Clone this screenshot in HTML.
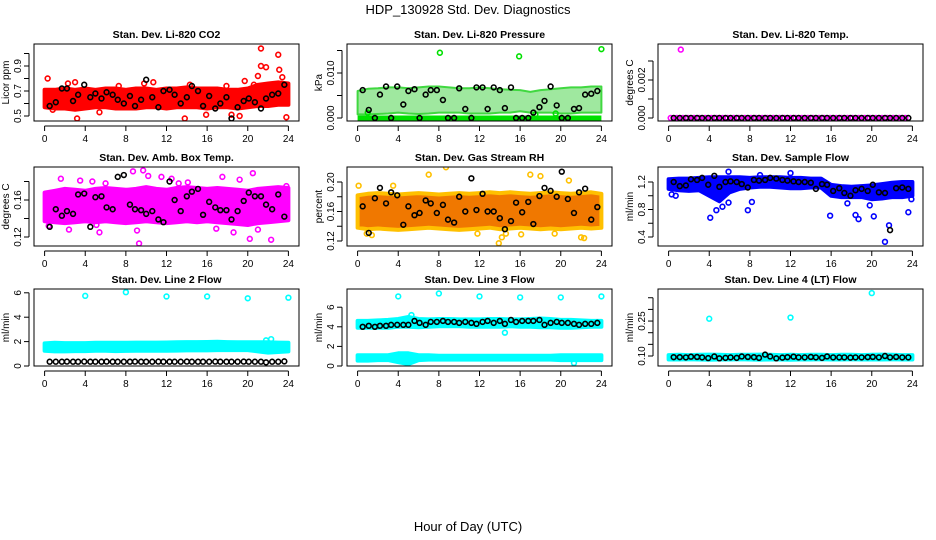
<!DOCTYPE html>
<html><head><meta charset="utf-8">
<style>
html,body{margin:0;padding:0;background:#fff;}
svg{display:block;font-family:"Liberation Sans",Arial,sans-serif;}
</style></head>
<body>
<svg id="chart" width="936" height="540" viewBox="0 0 936 540">
<text x="468" y="14" text-anchor="middle" font-size="13">HDP_130928  Std. Dev. Diagnostics</text>
<text x="468" y="531" text-anchor="middle" font-size="13">Hour of Day (UTC)</text>
</svg>
<script>
const blackHours=[0.5,1.1,1.7,2.2,2.8,3.3,3.9,4.5,5.0,5.6,6.1,6.7,7.2,7.8,8.4,8.9,9.5,10.0,10.6,11.2,11.7,12.3,12.8,13.4,14.0,14.5,15.1,15.6,16.2,16.8,17.3,17.9,18.4,19.0,19.6,20.1,20.7,21.3,21.8,22.4,23.0,23.6];
const bandHours=[0,1,2,3,4,5,6,7,8,9,10,11,12,13,14,15,16,17,18,19,20,21,22,23,24];
const xTicks=[0,4,8,12,16,20,24];

const co2Lo=[0.57,0.56,0.56,0.55,0.56,0.57,0.57,0.56,0.56,0.56,0.57,0.57,0.56,0.57,0.57,0.57,0.56,0.57,0.57,0.56,0.57,0.58,0.58,0.59,0.59];
const co2Hi=[0.71,0.71,0.72,0.71,0.72,0.71,0.72,0.72,0.71,0.72,0.72,0.71,0.72,0.72,0.73,0.72,0.72,0.72,0.71,0.71,0.72,0.75,0.76,0.77,0.76];
const co2OutH=[0.3,0.8,3.2,3.0,5.4,10.7,13.8,15.9,17.9,18.4,19.2,19.7,21.0,21.3,21.8,23.1,23.4,23.8,21.3,20.6,23.0,2.3,7.3,9.8,14.3];
const co2OutV=[0.80,0.55,0.48,0.77,0.53,0.77,0.48,0.51,0.74,0.51,0.50,0.78,0.82,0.90,0.89,0.87,0.81,0.49,1.04,0.75,0.99,0.76,0.74,0.76,0.75];
const co2Black=[0.58,0.61,0.72,0.72,0.62,0.67,0.75,0.65,0.68,0.64,0.69,0.67,0.63,0.60,0.66,0.58,0.63,0.79,0.65,0.57,0.70,0.71,0.67,0.60,0.65,0.74,0.70,0.58,0.66,0.56,0.60,0.65,0.48,0.57,0.62,0.64,0.61,0.56,0.64,0.67,0.68,0.75];

const presLo=[0.0008,0.0008,0.0009,0.0010,0.0012,0.0010,0.0009,0.0010,0.0012,0.0012,0.0012,0.0010,0.0010,0.0010,0.0012,0.0012,0.0015,0.0012,0.0012,0.0012,0.0010,0.0010,0.0012,0.0012,0.0012];
const presHi=[0.0060,0.0065,0.0066,0.0068,0.0068,0.0066,0.0068,0.0070,0.0070,0.0068,0.0066,0.0066,0.0068,0.0066,0.0064,0.0063,0.0062,0.0058,0.0062,0.0064,0.0066,0.0068,0.0068,0.0070,0.0070];
const presOutH=[8.1,15.9,24.0,1.0,17.5,19.5];
const presOutV=[0.0145,0.0137,0.0153,0.0012,0.0008,0.0010];
const presBlack=[0.0062,0.0018,0.0000,0.0052,0.0070,0.0000,0.0070,0.0030,0.0060,0.0064,0.0000,0.0052,0.0062,0.0062,0.0040,0.0000,0.0000,0.0066,0.0020,0.0000,0.0068,0.0068,0.0020,0.0068,0.0062,0.0022,0.0068,0.0000,0.0000,0.0000,0.0012,0.0024,0.0038,0.0070,0.0028,0.0000,0.0000,0.0020,0.0022,0.0052,0.0054,0.0060];

const tempOutH=[1.2];
const tempOutV=[0.0036];
const tempBlack=[0,0,0,0,0,0,0,0,0,0,0,0,0,0,0,0,0,0,0,0,0,0,0,0,0,0,0,0,0,0,0,0,0,0,0,0,0,0,0,0,0,0];

const ambLo=[0.137,0.136,0.135,0.136,0.137,0.136,0.137,0.136,0.135,0.136,0.137,0.136,0.135,0.136,0.137,0.136,0.137,0.136,0.135,0.134,0.133,0.135,0.136,0.137,0.138];
const ambHi=[0.168,0.170,0.172,0.171,0.170,0.172,0.173,0.172,0.171,0.172,0.174,0.172,0.171,0.173,0.174,0.173,0.172,0.173,0.172,0.171,0.170,0.172,0.173,0.174,0.173];
const ambOutH=[1.6,2.4,3.5,4.7,5.1,5.4,6.0,8.7,9.1,9.3,9.7,10.2,11.5,12.5,14.1,16.9,17.5,18.6,19.2,20.2,20.5,21.0,22.3,23.8,0.4,13.2];
const ambOutV=[0.183,0.128,0.181,0.180,0.133,0.125,0.178,0.191,0.127,0.113,0.192,0.186,0.185,0.183,0.179,0.129,0.185,0.125,0.182,0.118,0.189,0.128,0.117,0.175,0.132,0.178];
const ambBlack=[0.131,0.150,0.143,0.148,0.145,0.166,0.167,0.131,0.163,0.164,0.152,0.150,0.185,0.187,0.155,0.150,0.149,0.145,0.148,0.139,0.136,0.180,0.160,0.148,0.164,0.169,0.172,0.144,0.158,0.152,0.149,0.149,0.139,0.148,0.159,0.168,0.164,0.164,0.155,0.150,0.166,0.142];

const rhLo=[0.138,0.136,0.137,0.136,0.135,0.136,0.137,0.138,0.137,0.136,0.135,0.136,0.137,0.138,0.136,0.137,0.138,0.137,0.136,0.137,0.136,0.137,0.138,0.137,0.138];
const rhHi=[0.182,0.184,0.185,0.184,0.183,0.184,0.185,0.184,0.183,0.184,0.185,0.184,0.185,0.186,0.185,0.186,0.185,0.184,0.185,0.186,0.185,0.184,0.185,0.186,0.184];
const rhOutH=[0.1,0.9,1.4,3.5,7.0,8.7,11.8,13.9,14.2,14.6,18.0,19.4,20.8,22.0,22.3,16.1,17.0];
const rhOutV=[0.195,0.130,0.128,0.195,0.210,0.220,0.130,0.117,0.125,0.130,0.208,0.130,0.202,0.125,0.124,0.129,0.210];
const rhBlack=[0.167,0.131,0.178,0.192,0.171,0.186,0.182,0.142,0.167,0.155,0.158,0.175,0.171,0.158,0.169,0.149,0.145,0.180,0.160,0.205,0.162,0.184,0.160,0.160,0.151,0.136,0.147,0.172,0.159,0.173,0.143,0.181,0.192,0.188,0.180,0.214,0.177,0.158,0.186,0.191,0.149,0.166];

const flowLo=[1.10,1.08,1.07,1.08,1.00,0.92,1.05,1.10,1.12,1.13,1.13,1.12,1.11,1.11,1.12,1.12,1.00,0.98,0.98,0.98,0.95,0.96,0.98,0.98,1.00];
const flowHi=[1.24,1.25,1.25,1.26,1.27,1.27,1.27,1.27,1.26,1.27,1.27,1.27,1.26,1.26,1.25,1.25,1.16,1.14,1.13,1.14,1.15,1.17,1.19,1.20,1.20];
const flowOutH=[4.1,4.7,5.3,5.9,7.8,8.2,9.0,15.9,17.6,18.4,18.7,19.8,20.2,21.3,21.7,23.6,23.9,0.3,0.7,5.9,12.0];
const flowOutV=[0.68,0.79,0.84,0.90,0.79,0.91,1.30,0.71,0.89,0.72,0.66,0.86,0.70,0.33,0.57,0.76,0.95,1.02,1.00,1.35,1.33];
const flowBlack=[1.20,1.14,1.15,1.24,1.23,1.26,1.16,1.29,1.13,1.20,1.21,1.20,1.17,1.12,1.23,1.22,1.23,1.26,1.25,1.23,1.22,1.21,1.20,1.20,1.19,1.10,1.17,1.16,1.07,1.11,1.04,1.00,1.08,1.10,1.07,1.16,1.05,1.04,0.50,1.11,1.12,1.10];

const l2Lo=[1.25,1.20,1.20,1.22,1.22,1.25,1.25,1.22,1.24,1.25,1.25,1.25,1.25,1.26,1.28,1.28,1.28,1.30,1.30,1.30,1.30,1.20,1.10,1.15,1.20];
const l2Hi=[1.85,1.90,1.88,1.88,1.88,1.90,1.90,1.90,1.90,1.92,1.92,1.92,1.93,1.95,1.96,1.96,1.97,1.98,1.96,1.95,1.95,1.95,1.95,1.92,1.90];
const l2OutH=[4.0,8.0,12.0,16.0,20.0,24.0,21.8,22.3];
const l2OutV=[5.75,6.05,5.70,5.70,5.55,5.60,2.10,2.20];
const l2Black=[0.35,0.35,0.35,0.36,0.35,0.35,0.36,0.35,0.35,0.35,0.36,0.35,0.35,0.35,0.35,0.36,0.35,0.35,0.35,0.36,0.35,0.35,0.35,0.35,0.36,0.35,0.35,0.35,0.35,0.36,0.35,0.35,0.35,0.35,0.36,0.35,0.35,0.35,0.30,0.35,0.35,0.38];

const l3Lo=[3.9,3.9,3.9,3.9,4.0,4.0,3.95,4.0,4.05,4.05,4.05,4.0,4.0,4.0,4.0,4.05,4.0,4.0,3.95,3.95,3.9,3.9,3.95,4.0,4.0];
const l3Hi=[4.6,4.6,4.65,4.7,4.8,5.0,4.8,4.75,4.8,4.8,4.75,4.75,4.75,4.8,4.8,4.75,4.75,4.8,4.85,4.8,4.7,4.7,4.65,4.6,4.6];
const l3bLo=[0.55,0.55,0.6,0.6,0.4,0.2,0.6,0.65,0.65,0.65,0.65,0.65,0.65,0.65,0.65,0.65,0.65,0.65,0.65,0.65,0.6,0.6,0.6,0.6,0.6];
const l3bHi=[1.1,1.1,1.1,1.1,1.3,1.3,1.1,1.1,1.05,1.05,1.05,1.05,1.05,1.05,1.05,1.05,1.05,1.05,1.05,1.05,1.1,1.1,1.1,1.1,1.1];
const l3OutH=[4.0,8.0,12.0,16.0,20.0,24.0,14.5,21.3,5.3];
const l3OutV=[7.1,7.4,7.1,7.0,7.0,7.1,3.4,0.3,5.2];
const l3Black=[4.0,4.1,4.0,4.1,4.1,4.2,4.2,4.2,4.2,4.6,4.4,4.2,4.5,4.5,4.6,4.5,4.5,4.4,4.5,4.4,4.3,4.5,4.6,4.4,4.6,4.3,4.7,4.5,4.6,4.6,4.6,4.7,4.2,4.4,4.5,4.4,4.4,4.3,4.2,4.3,4.3,4.4];

const l4Lo=[0.085,0.085,0.086,0.085,0.084,0.085,0.085,0.086,0.085,0.084,0.085,0.085,0.084,0.085,0.085,0.086,0.085,0.085,0.086,0.085,0.085,0.085,0.086,0.085,0.085];
const l4Hi=[0.104,0.105,0.104,0.105,0.106,0.105,0.104,0.105,0.105,0.106,0.105,0.104,0.105,0.104,0.105,0.105,0.104,0.105,0.105,0.104,0.105,0.106,0.105,0.104,0.104];
const l4OutH=[4.0,12.0,20.0];
const l4OutV=[0.26,0.265,0.37];
const l4Black=[0.095,0.095,0.094,0.097,0.096,0.094,0.091,0.098,0.090,0.092,0.094,0.092,0.098,0.096,0.095,0.092,0.106,0.098,0.090,0.093,0.095,0.097,0.094,0.094,0.096,0.094,0.092,0.098,0.094,0.094,0.094,0.093,0.094,0.094,0.095,0.096,0.094,0.100,0.094,0.096,0.094,0.094];

const NS="http://www.w3.org/2000/svg";
const svg=document.getElementById('chart');
function mk(tag,attrs,parent){const e=document.createElementNS(NS,tag);for(const k in attrs)e.setAttribute(k,attrs[k]);(parent||svg).appendChild(e);return e;}

function panel(cfg){
  const g=mk('g',{});
  
  
  const L=cfg.box[0],R=cfg.box[1],T=cfg.box[2],B=cfg.box[3],W=R-L;
  const xs=h=>L+W*0.04+h/24*W*0.92;
  const ys=v=>cfg.y0px-(v-cfg.v0)*cfg.scale;
  const clip='clip-'+cfg.name;
  const cp=mk('clipPath',{id:clip},g);mk('rect',{x:L,y:T,width:W,height:B-T},cp);
  const data=mk('g',{'clip-path':'url(#'+clip+')'},g);
  (cfg.bands||[]).forEach(b=>{
    let d='';
    bandHours.forEach((h,i)=>{d+=(i?'L':'M')+xs(h).toFixed(1)+','+ys(b.hi[i]).toFixed(1);});
    for(let i=bandHours.length-1;i>=0;i--)d+='L'+xs(bandHours[i]).toFixed(1)+','+ys(b.lo[i]).toFixed(1);
    const p=mk('path',{d:d+'Z',fill:b.fill,stroke:b.stroke||cfg.color,'stroke-width':b.sw||4,'stroke-linejoin':'round'},data);
    
    
  });
  if(cfg.zeroLine){
    const ln=mk('line',{x1:xs(0),x2:xs(24),y1:ys(0),y2:ys(0),stroke:cfg.color,'stroke-width':5},data);
    
    
  }
  cfg.outH.forEach((h,i)=>{
    const c=mk('circle',{cx:xs(h),cy:ys(cfg.outV[i]),r:2.4,fill:'none',stroke:cfg.color,'stroke-width':1.6},data);
    
    
  });
  if(cfg.colorAtBlack){
    blackHours.forEach((h,i)=>{
      const c=mk('circle',{cx:xs(h)-3,cy:ys(cfg.black[i]),r:2.4,fill:'none',stroke:cfg.color,'stroke-width':1.6},data);
      
      
    });
  }
  blackHours.forEach((h,i)=>{
    const c=mk('circle',{cx:xs(h),cy:ys(cfg.black[i]),r:2.4,fill:'none',stroke:'#000','stroke-width':1.6},data);
    
    
  });
  const fr=mk('rect',{x:L,y:T,width:W,height:B-T,fill:'none',stroke:'#000','stroke-width':1},g);
  
  
  const t=mk('text',{x:(L+R)/2,y:T-6,'text-anchor':'middle','font-size':10.5,'font-weight':'bold'},g);
  t.textContent=cfg.title;
  
  
  const xa=mk('g',{},g);
  
  
  mk('line',{x1:xs(0),x2:xs(24),y1:B+5,y2:B+5,stroke:'#000'},xa);
  xTicks.forEach(v=>{
    mk('line',{x1:xs(v),x2:xs(v),y1:B+5,y2:B+10,stroke:'#000'},xa);
    const tx=mk('text',{x:xs(v),y:B+21,'text-anchor':'middle','font-size':10},xa);
    tx.textContent=v;
  });
  const ya=mk('g',{},g);
  
  
  const tk=cfg.yTicks;
  mk('line',{x1:L-5,x2:L-5,y1:ys(tk[0]),y2:ys(tk[tk.length-1]),stroke:'#000'},ya);
  tk.forEach((v,i)=>{
    mk('line',{x1:L-10,x2:L-5,y1:ys(v),y2:ys(v),stroke:'#000'},ya);
    if(cfg.yLabels[i]){
      const yy=ys(v);
      const tx=mk('text',{x:L-13,y:yy,'text-anchor':'middle','font-size':10,transform:'rotate(-90 '+(L-13)+' '+yy+')'},ya);
      tx.textContent=cfg.yLabels[i];
    }
  });
  const ml=(T+B)/2;
  const yl=mk('text',{x:L-25,y:ml,'text-anchor':'middle','font-size':10,transform:'rotate(-90 '+(L-25)+' '+ml+')'},g);
  yl.textContent=cfg.ylab;
  
  
}

const C1=[34,299],C2=[347,612],C3=[658,923];
const R1=[44,121],R2=[167,246],R3=[289,366];
panel({name:'panel-co2',title:'Stan. Dev. Li-820 CO2',ylab:'Licor ppm',box:[...C1,...R1],color:'#ff0000',y0px:116,v0:0.5,scale:125,
  yTicks:[0.5,0.6,0.7,0.8,0.9,1.0],yLabels:['0.5','','0.7','','0.9',''],bands:[{lo:co2Lo,hi:co2Hi,fill:'#ff0000'}],outH:co2OutH,outV:co2OutV,black:co2Black});
panel({name:'panel-pressure',title:'Stan. Dev. Li-820 Pressure',ylab:'kPa',box:[...C2,...R1],color:'#00e000',y0px:118,v0:0,scale:4500,
  yTicks:[0,0.005,0.010,0.015],yLabels:['0.000','','0.010',''],bands:[{lo:presLo,hi:presHi,fill:'#9fe89f',stroke:'#40d840',sw:2}],zeroLine:true,outH:presOutH,outV:presOutV,black:presBlack});
panel({name:'panel-li820-temp',title:'Stan. Dev. Li-820 Temp.',ylab:'degrees C',box:[...C3,...R1],color:'#ff00ff',y0px:118,v0:0,scale:19000,
  yTicks:[0,0.001,0.002,0.003],yLabels:['0.000','','0.002',''],bands:[],zeroLine:false,colorAtBlack:true,outH:tempOutH,outV:tempOutV,black:tempBlack});
panel({name:'panel-amb-box-temp',title:'Stan. Dev. Amb. Box Temp.',ylab:'degrees C',box:[...C1,...R2],color:'#ff00ff',y0px:237,v0:0.12,scale:925,
  yTicks:[0.12,0.14,0.16,0.18],yLabels:['0.12','','0.16',''],bands:[{lo:ambLo,hi:ambHi,fill:'#ff00ff'}],outH:ambOutH,outV:ambOutV,black:ambBlack});
panel({name:'panel-gas-stream-rh',title:'Stan. Dev. Gas Stream RH',ylab:'percent',box:[...C2,...R2],color:'#ffc000',y0px:241,v0:0.12,scale:737.5,
  yTicks:[0.12,0.14,0.16,0.18,0.20],yLabels:['0.12','','0.16','','0.20'],bands:[{lo:rhLo,hi:rhHi,fill:'#f07800'}],outH:rhOutH,outV:rhOutV,black:rhBlack});
panel({name:'panel-sample-flow',title:'Stan. Dev. Sample Flow',ylab:'ml/min',box:[...C3,...R2],color:'#0000ff',y0px:237,v0:0.4,scale:68.75,
  yTicks:[0.4,0.6,0.8,1.0,1.2],yLabels:['0.4','','0.8','','1.2'],bands:[{lo:flowLo,hi:flowHi,fill:'#0000ff'}],outH:flowOutH,outV:flowOutV,black:flowBlack});
panel({name:'panel-line2-flow',title:'Stan. Dev. Line 2 Flow',ylab:'ml/min',box:[...C1,...R3],color:'#00ffff',y0px:366,v0:0,scale:12.2,
  yTicks:[0,2,4,6],yLabels:['0','2','4','6'],bands:[{lo:l2Lo,hi:l2Hi,fill:'#00ffff'}],outH:l2OutH,outV:l2OutV,black:l2Black});
panel({name:'panel-line3-flow',title:'Stan. Dev. Line 3 Flow',ylab:'ml/min',box:[...C2,...R3],color:'#00ffff',y0px:366,v0:0,scale:9.8,
  yTicks:[0,2,4,6],yLabels:['0','2','4','6'],bands:[{lo:l3Lo,hi:l3Hi,fill:'#00ffff'},{lo:l3bLo,hi:l3bHi,fill:'#00ffff'}],outH:l3OutH,outV:l3OutV,black:l3Black});
panel({name:'panel-line4-flow',title:'Stan. Dev. Line 4 (LT) Flow',ylab:'ml/min',box:[...C3,...R3],color:'#00ffff',y0px:356,v0:0.10,scale:233,
  yTicks:[0.10,0.15,0.20,0.25,0.30,0.35],yLabels:['0.10','','','0.25','',''],bands:[{lo:l4Lo,hi:l4Hi,fill:'#00ffff'}],outH:l4OutH,outV:l4OutV,black:l4Black});
</script>
</body></html>
